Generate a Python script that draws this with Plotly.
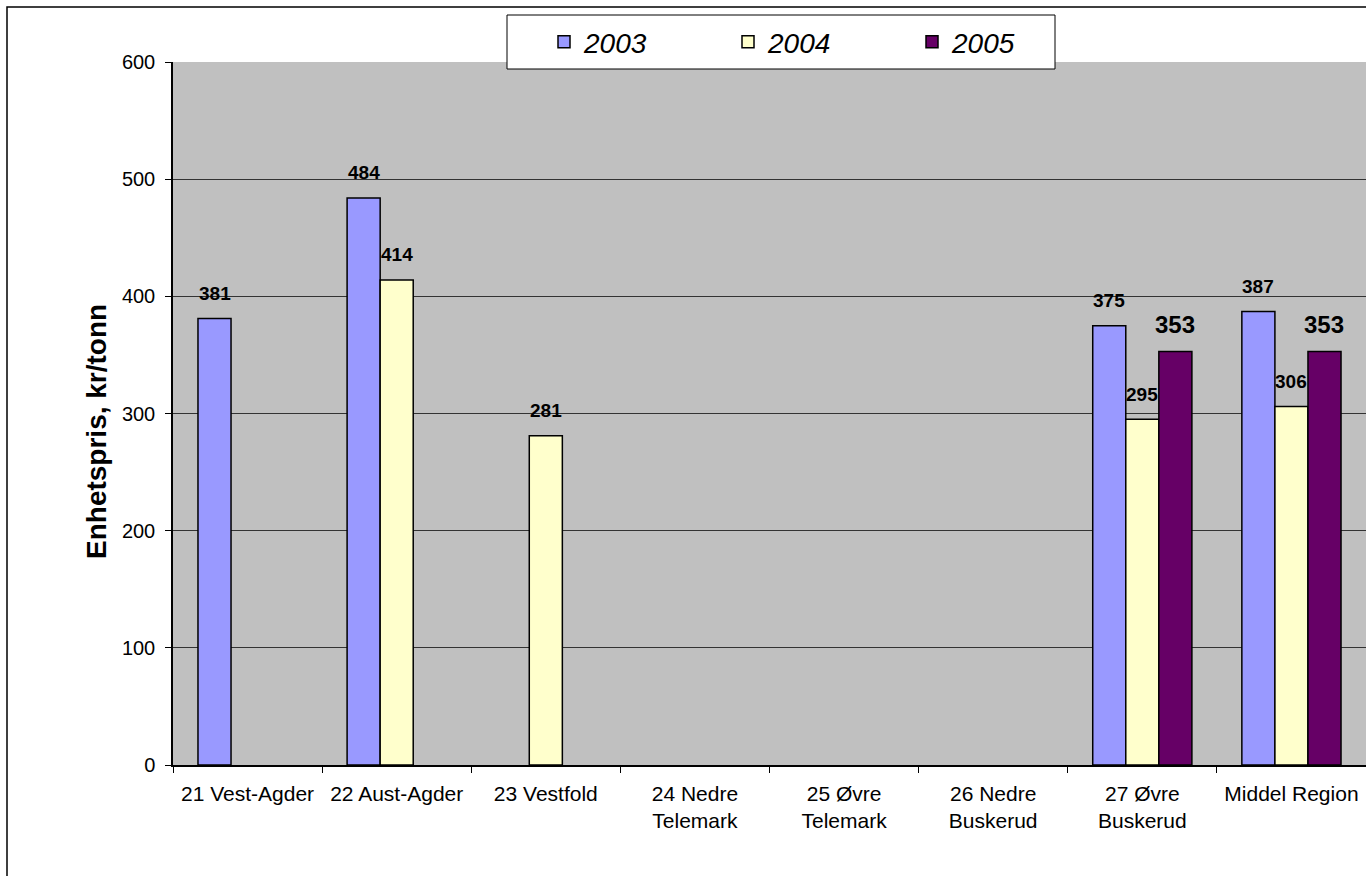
import plotly.graph_objects as go

categories = ["21 Vest-Agder", "22 Aust-Agder", "23 Vestfold", "24 Nedre<br>Telemark",
              "25 Øvre<br>Telemark", "26 Nedre<br>Buskerud", "27 Øvre<br>Buskerud", "Middel Region"]
series_names = ["2003", "2004", "2005"]
v2003 = [381, 484, None, None, None, None, 375, 387]
v2004 = [None, 414, 281, None, None, None, 295, 306]
v2005 = [None, None, None, None, None, None, 353, 353]
colors = ["#9999FF", "#FFFFCC", "#660066"]
label_sizes = [19, 19, 24]
label_shift = [25, 25, 27]
y_ticks = [0, 100, 200, 300, 400, 500, 600]
y_title = "Enhetspris, kr/tonn"

W, H = 1366, 876
ML, MR, MT, MB = 173, 0, 62, 111
BARGAP = 0.335
FONT = "Liberation Sans, Arial, sans-serif"

fig = go.Figure()
all_vals = [v2003, v2004, v2005]
for name, vals, col in zip(series_names, all_vals, colors):
    fig.add_trace(go.Bar(
        x=categories, y=vals, name=name,
        marker=dict(color=col, line=dict(color="black", width=1.5)),
        hoverinfo="x+y+name",
    ))

plot_w = W - ML - MR
ph = H - MT - MB
cat_w = plot_w / len(categories)
bar_w = cat_w * (1 - BARGAP) / len(series_names)
for i, vals in enumerate(all_vals):
    for cat, v in zip(categories, vals):
        if v is None:
            continue
        fig.add_annotation(
            x=cat, y=v, xref="x", yref="y", text=f"<b>{v}</b>", showarrow=False,
            xshift=(i - 1) * bar_w, yshift=label_shift[i], yanchor="middle",
            font=dict(family=FONT, size=label_sizes[i], color="black"),
        )

# y-axis title
fig.add_annotation(
    x=(96 - ML) / plot_w, y=1 - (432 - MT) / ph, xref="paper", yref="paper",
    text=f"<b>{y_title}</b>", textangle=-90, showarrow=False,
    xanchor="center", yanchor="middle", font=dict(family=FONT, size=28, color="black"),
)

# legend box
fig.add_shape(type="rect", xref="paper", yref="paper",
              x0=(507 - ML) / plot_w, x1=(1055 - ML) / plot_w,
              y0=1 - (69 - MT) / ph, y1=1 + (MT - 15) / ph,
              fillcolor="white", line=dict(color="black", width=1), layer="above")
# outer chart border
fig.add_shape(type="rect", xref="paper", yref="paper",
              x0=(7 - ML) / plot_w, x1=1.2,
              y0=-0.5, y1=1 + (MT - 7) / ph,
              fillcolor="rgba(0,0,0,0)", line=dict(color="black", width=1.5), layer="above")

fig.update_layout(
    width=W, height=H,
    margin=dict(l=ML, r=MR, t=MT, b=MB),
    paper_bgcolor="white", plot_bgcolor="#C0C0C0",
    barmode="group", bargap=BARGAP, bargroupgap=0,
    font=dict(family=FONT, color="black", size=20),
    showlegend=True,
    legend=dict(orientation="h", x=(544 - ML) / plot_w, y=1 + (MT - 42) / ph,
                xanchor="left", yanchor="middle",
                bgcolor="rgba(0,0,0,0)", borderwidth=0,
                font=dict(size=28, style="italic"),
                entrywidth=139, entrywidthmode="pixels", itemclick=False),
    xaxis=dict(type="category", tickson="boundaries", ticks="outside", ticklen=6,
               tickcolor="black", showline=True, linecolor="black", linewidth=1.5,
               showgrid=False, tickfont=dict(size=21), range=[-0.5, 7.5],
               ticklabelstandoff=9),
    yaxis=dict(range=[0, 600], tickvals=y_ticks, ticks="outside", ticklen=6,
               tickcolor="black", showline=True, linecolor="black", linewidth=1.5,
               showgrid=True, gridcolor="#333333", gridwidth=1, zeroline=False,
               tickfont=dict(size=20), ticklabelstandoff=6),
)

fig.write_html("out.html", config={"displayModeBar": False},
               post_script="document.body.style.margin='0';document.body.style.overflow='hidden';")
